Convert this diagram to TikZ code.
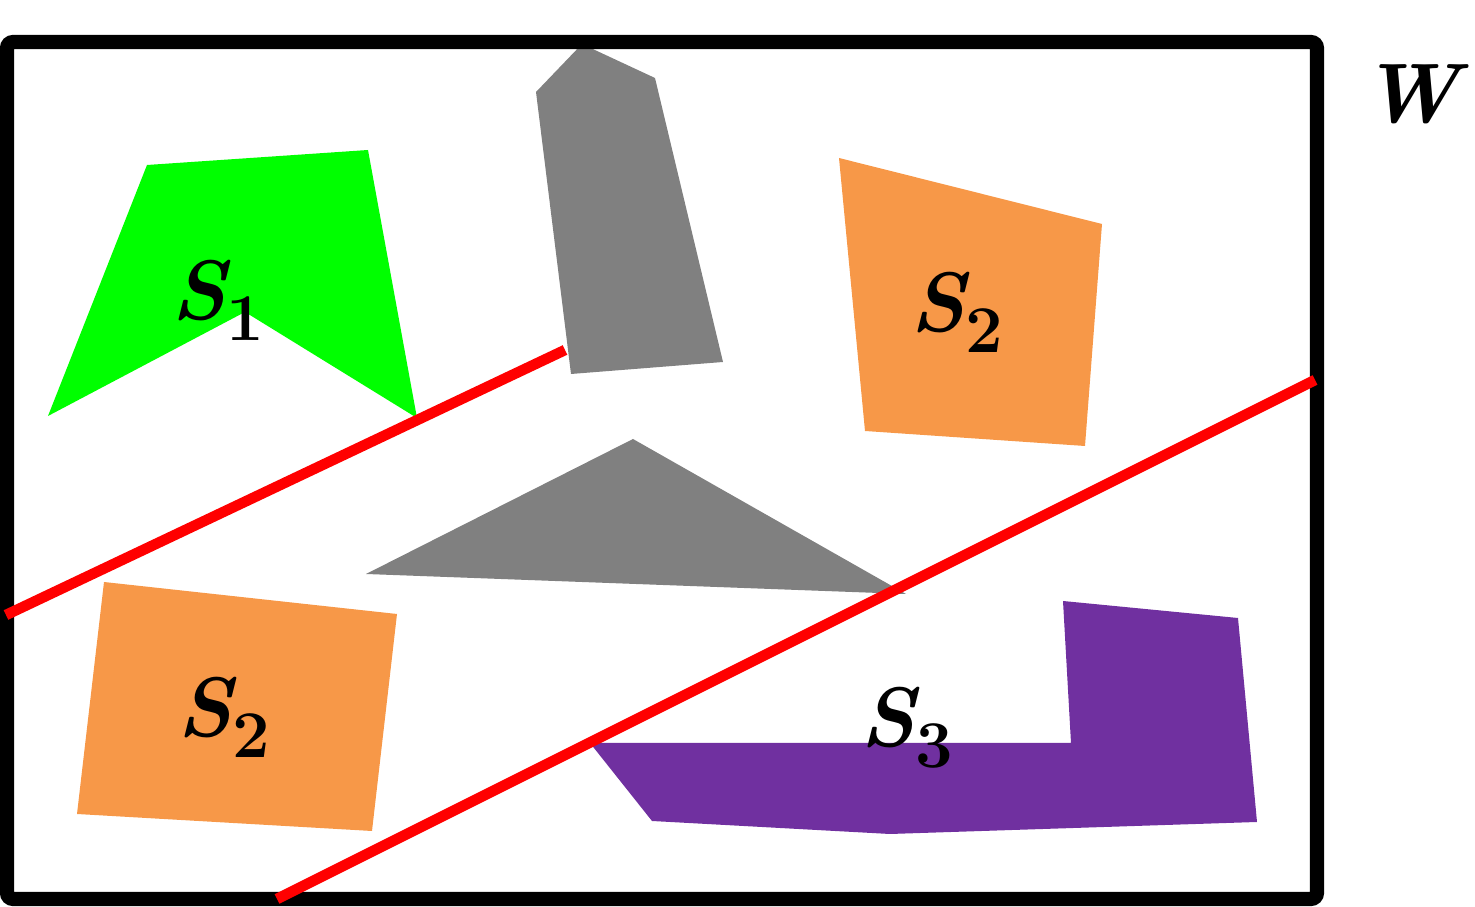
\documentclass[tikz,border=0pt]{standalone}
\usepackage{tikz}
\usetikzlibrary{calc, positioning}
\definecolor{setgreen}{RGB}{0,255,0}
\definecolor{setorange}{RGB}{247,152,72}
\definecolor{setpurple}{RGB}{112,48,160}
\definecolor{obsgray}{RGB}{128,128,128}
\newcommand*{\setname}[1]{{\itshape S}\raisebox{-0.25em}{\fontsize{19}{20}\selectfont #1}}
\tikzset{
 region/.style={fill=#1, draw=none},
 cut/.style={draw=red, line width=3pt},
 setlabel/.style={font=\fontsize{24}{28}\selectfont\bfseries, inner sep=0pt}
}

\begin{document}
\begin{tikzpicture}[x=0.01cm, y=-0.01cm]
 \useasboundingbox (0,0) rectangle (1475,907);
 \fill[region=setgreen] (147,165) -- (368,150) -- (417,418) -- (245,312) -- (48,416) -- cycle;
 \fill[region=obsgray] (582,44) -- (655,78) -- (723,362) -- (571,374) -- (536,92) -- cycle;
 \fill[region=setorange] (839,158) -- (1102,224) -- (1085,446) -- (865,431) -- cycle;
 \fill[region=obsgray] (633,439) -- (906,594) -- (366,574) -- cycle;
 \fill[region=setorange] (104,582) -- (397,614) -- (372,831) -- (77,814) -- cycle;
 \fill[region=setpurple] (590,743) -- (1071,743) -- (1063,601) -- (1238,618) -- (1257,822) -- (890,834) -- (652,821) -- cycle;
 \draw[line width=4pt, rounded corners=0.06cm] (7,42) rectangle (1317,899);
 \draw[cut] (6,615) -- (565,350);
 \draw[cut] (277,899) -- (1315,380);
 \node[setlabel] (s1) at (218,300) {\setname{1}};
 \node[setlabel] (s2a) at (957,312) {\setname{2}};
 \node[setlabel] (s2b) at (224,717) {\setname{2}};
 \node[setlabel] (s3) at (907,728) {\setname{3}};
 \node[setlabel] (w) at (1410,94) {\itshape W};
\end{tikzpicture}
\end{document}
